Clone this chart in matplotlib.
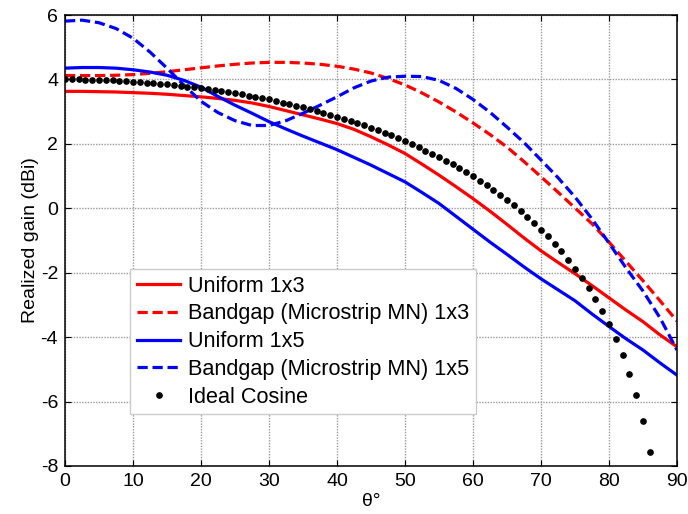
import matplotlib
matplotlib.use("Agg")
import matplotlib.pyplot as plt

plt.rcParams['font.family'] = ['Liberation Sans', 'DejaVu Sans']
plt.rcParams['axes.unicode_minus'] = False

# Sampled angles (deg) for the simulated patterns
theta = [0, 2.5, 5, 7.5, 10, 12.5, 15, 17.5, 20, 22.5, 25, 27.5, 30, 32.5,
         35, 37.5, 40, 42.5, 45, 47.5, 50, 52.5, 55, 57.5, 60, 62.5, 65,
         67.5, 70, 72.5, 75, 77.5, 80, 82.5, 85, 87.5, 90]

uniform_1x3 = [3.63, 3.63, 3.62, 3.61, 3.59, 3.57, 3.54, 3.50, 3.46, 3.41,
               3.35, 3.27, 3.16, 3.03, 2.90, 2.77, 2.63, 2.45, 2.22, 1.97,
               1.70, 1.37, 1.03, 0.67, 0.30, -0.09, -0.50, -0.92, -1.32,
               -1.68, -2.03, -2.40, -2.78, -3.16, -3.52, -3.93, -4.30]

bandgap_1x3 = [4.12, 4.12, 4.12, 4.13, 4.15, 4.19, 4.24, 4.30, 4.36, 4.42,
               4.47, 4.51, 4.53, 4.53, 4.51, 4.47, 4.41, 4.32, 4.20, 4.03,
               3.83, 3.58, 3.30, 2.99, 2.65, 2.29, 1.90, 1.45, 0.98, 0.50,
               0.01, -0.48, -1.05, -1.65, -2.25, -2.87, -3.50]

uniform_1x5 = [4.35, 4.37, 4.37, 4.35, 4.30, 4.23, 4.13, 3.97, 3.76, 3.47,
               3.20, 2.95, 2.69, 2.46, 2.24, 2.03, 1.82, 1.58, 1.34, 1.08,
               0.82, 0.49, 0.15, -0.25, -0.65, -1.05, -1.43, -1.82, -2.19,
               -2.53, -2.87, -3.28, -3.67, -4.05, -4.40, -4.80, -5.18]

bandgap_1x5 = [5.81, 5.84, 5.76, 5.58, 5.28, 4.85, 4.35, 3.82, 3.32, 2.97,
               2.72, 2.57, 2.57, 2.72, 2.95, 3.20, 3.46, 3.74, 3.95, 4.07,
               4.10, 4.09, 3.97, 3.72, 3.38, 2.98, 2.52, 2.04, 1.50, 0.95,
               0.35, -0.33, -1.08, -1.85, -2.57, -3.40, -4.40]

# Ideal cosine reference, one point per degree
theta_cos = list(range(0, 87))
ideal_cosine = [4.00, 4.00, 4.00, 3.99, 3.99, 3.98, 3.98, 3.97, 3.96, 3.95,
                3.93, 3.92, 3.90, 3.89, 3.87, 3.85, 3.83, 3.81, 3.78, 3.76,
                3.73, 3.70, 3.67, 3.64, 3.61, 3.57, 3.54, 3.50, 3.46, 3.42,
                3.38, 3.33, 3.28, 3.24, 3.19, 3.13, 3.08, 3.02, 2.97, 2.90,
                2.84, 2.78, 2.71, 2.64, 2.57, 2.49, 2.42, 2.34, 2.26, 2.17,
                2.08, 1.99, 1.89, 1.79, 1.69, 1.59, 1.48, 1.36, 1.24, 1.12,
                0.99, 0.86, 0.72, 0.57, 0.42, 0.26, 0.09, -0.08, -0.26, -0.46,
                -0.66, -0.87, -1.10, -1.34, -1.60, -1.87, -2.16, -2.48, -2.82,
                -3.19, -3.60, -4.06, -4.56, -5.14, -5.81, -6.60, -7.56]

labels = ["Uniform 1x3", "Bandgap (Microstrip MN) 1x3", "Uniform 1x5",
          "Bandgap (Microstrip MN) 1x5", "Ideal Cosine"]
xticks = list(range(0, 91, 10))
yticks = list(range(-8, 7, 2))

fig = plt.figure(figsize=(6.88, 5.14), dpi=100)
ax = fig.add_axes([0.0945, 0.0934, 0.8895, 0.8774])

lw = 2.3
dash = (3.2, 1.5)
ax.plot(theta, uniform_1x3, color='#ff0000', lw=lw, label=labels[0])
ax.plot(theta, bandgap_1x3, color='#ff0000', lw=lw, dashes=dash, label=labels[1])
ax.plot(theta, uniform_1x5, color='#0000ff', lw=lw, label=labels[2])
ax.plot(theta, bandgap_1x5, color='#0000ff', lw=lw, dashes=dash, label=labels[3])
ax.plot(theta_cos, ideal_cosine, linestyle='none', marker='o', ms=3.8,
        color='black', label=labels[4])

ax.set_xlim(0, 90)
ax.set_ylim(-8, 6)
ax.set_xticks(xticks)
ax.set_yticks(yticks)
ax.tick_params(direction='in', top=True, right=True, length=4, width=0.8,
               labelsize=14, pad=5)
ax.grid(True, color='#9a9a9a', linestyle=(0, (1, 1)), linewidth=1.0)
for sp in ax.spines.values():
    sp.set_linewidth(1.1)
    sp.set_color('black')

ax.set_xlabel("θ°", fontsize=14, labelpad=2)
ax.set_ylabel("Realized gain (dBi)", fontsize=14, labelpad=1)

leg = ax.legend(loc='lower left', bbox_to_anchor=(0.107, 0.115), fontsize=15.6,
                numpoints=1, handlelength=2.0, handletextpad=0.35,
                labelspacing=0.31, borderpad=0.3, borderaxespad=0,
                fancybox=False, framealpha=1, edgecolor='#cccccc')
leg.get_frame().set_linewidth(1.0)

fig.savefig("out.png", dpi=100)
